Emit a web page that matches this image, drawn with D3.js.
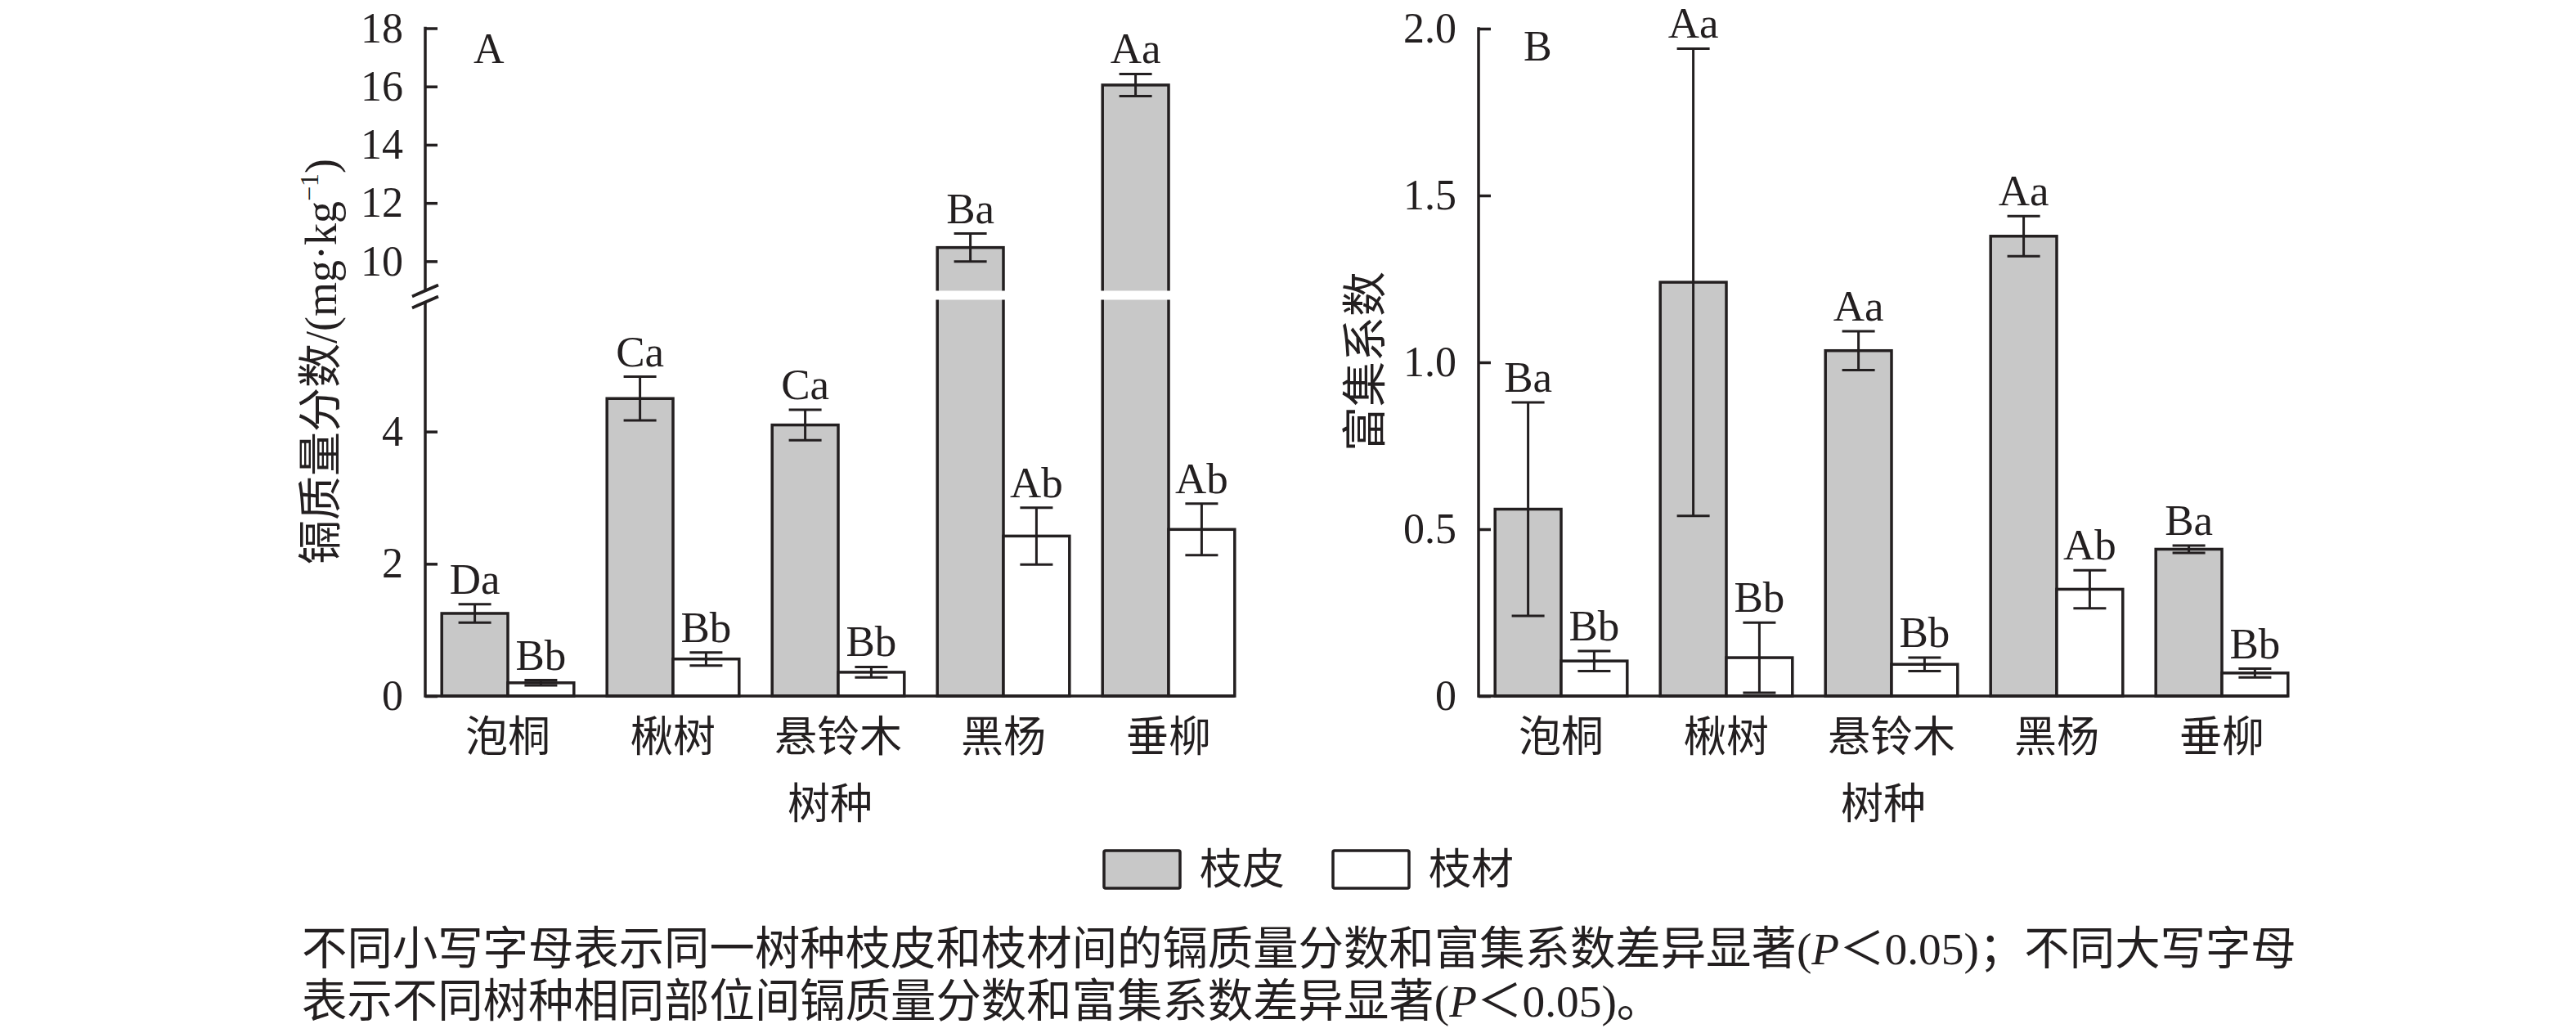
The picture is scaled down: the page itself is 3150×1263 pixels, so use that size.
<!DOCTYPE html>
<html><head><meta charset="utf-8">
<script src="https://cdn.jsdelivr.net/npm/d3@7"></script>
<style>body{margin:0;background:#fff}</style>
</head><body><svg id="c" width="3150" height="1263" xmlns="http://www.w3.org/2000/svg"></svg>
<script>
// ---------- data ----------
const categories = ["泡桐", "楸树", "悬铃木", "黑杨", "垂柳"];
const series = ["枝皮", "枝材"];

// A: Cd mass fraction (mg/kg)
const cdBark = [1.25, 4.50, 4.10, 10.47, 16.05];
const cdBarkErr = [0.14, 0.33, 0.23, 0.48, 0.38];
const cdWood = [0.20, 0.56, 0.36, 2.42, 2.52];
const cdWoodErr = [0.04, 0.10, 0.08, 0.43, 0.39];
const cdBarkLabels = ["Da", "Ca", "Ca", "Ba", "Aa"];
const cdWoodLabels = ["Bb", "Bb", "Bb", "Ab", "Ab"];
const cdTicksLower = [0, 2, 4];
const cdTicksUpper = [10, 12, 14, 16, 18];

// B: bioconcentration factor
const bcfBark = [0.56, 1.24, 1.035, 1.378, 0.44];
const bcfBarkErr = [0.32, 0.70, 0.058, 0.06, 0.011];
const bcfWood = [0.105, 0.115, 0.095, 0.32, 0.069];
const bcfWoodErr = [0.03, 0.105, 0.02, 0.057, 0.013];
const bcfBarkLabels = ["Ba", "Aa", "Aa", "Aa", "Ba"];
const bcfWoodLabels = ["Bb", "Bb", "Bb", "Ab", "Bb"];
const bcfTicks = [0, 0.5, 1.0, 1.5, 2.0];
const bcfTickLabels = ["0", "0.5", "1.0", "1.5", "2.0"];

const titleA = "镉质量分数/(mg·kg";
const titleB = "富集系数";
const xTitle = "树种";
const noteLine1 = ["不同小写字母表示同一树种枝皮和枝材间的镉质量分数和富集系数差异显著(", "P", "＜0.05)；不同大写字母"];
const noteLine2 = ["表示不同树种相同部位间镉质量分数和富集系数差异显著(", "P", "＜0.05)。"];

// ---------- style ----------
const INK = "#231f20";
const GRAY = "#c8c8c8";
const LAT = "'Liberation Serif','Times New Roman',serif";
const CJK = "'Noto Sans CJK SC','Noto Sans CJK JP',sans-serif";
const MIX = "'Liberation Serif','Noto Sans CJK SC',serif";
const BASE = 851;

const svg = d3.select("#c");
svg.append("rect").attr("width", 3150).attr("height", 1263).attr("fill", "#fff");

function rowsFor(bark, barkErr, barkLab, wood, woodErr, woodLab) {
  const rows = [];
  categories.forEach((c, i) => {
    rows.push({cat: c, s: series[0], v: bark[i], e: barkErr[i], lab: barkLab[i]});
    rows.push({cat: c, s: series[1], v: wood[i], e: woodErr[i], lab: woodLab[i]});
  });
  return rows;
}

function drawPanel(g, x, xSub, y, rows, gapY) {
  const fill = d3.scaleOrdinal().domain(series).range([GRAY, "#fff"]);
  g.selectAll("rect.bar").data(rows).join("rect").attr("class", "bar")
    .attr("x", d => x(d.cat) + xSub(d.s))
    .attr("width", xSub.bandwidth())
    .attr("y", d => y(d.v))
    .attr("height", d => BASE - y(d.v))
    .attr("fill", d => fill(d.s))
    .attr("stroke", INK).attr("stroke-width", 3.5);
  if (gapY) {
    g.selectAll("rect.gap").data(rows.filter(d => d.v > gapY.v)).join("rect").attr("class", "gap")
      .attr("x", d => x(d.cat) + xSub(d.s) - 4)
      .attr("width", xSub.bandwidth() + 8)
      .attr("y", gapY.top).attr("height", gapY.bottom - gapY.top)
      .attr("fill", "#fff");
  }
  const cx = d => x(d.cat) + xSub(d.s) + xSub.bandwidth() / 2;
  const eg = g.selectAll("g.err").data(rows).join("g").attr("class", "err")
    .attr("stroke", INK).attr("stroke-width", 3);
  eg.append("line").attr("x1", cx).attr("x2", cx)
    .attr("y1", d => y(d.v + d.e)).attr("y2", d => y(Math.max(0, d.v - d.e)));
  eg.append("line").attr("x1", d => cx(d) - 20).attr("x2", d => cx(d) + 20)
    .attr("y1", d => y(d.v + d.e)).attr("y2", d => y(d.v + d.e));
  eg.append("line").attr("x1", d => cx(d) - 20).attr("x2", d => cx(d) + 20)
    .attr("y1", d => y(Math.max(0, d.v - d.e))).attr("y2", d => y(Math.max(0, d.v - d.e)));
  g.selectAll("text.lab").data(rows).join("text").attr("class", "lab")
    .attr("x", cx).attr("y", d => y(d.v + d.e) - 13)
    .attr("text-anchor", "middle").attr("font-family", LAT).attr("font-size", 53)
    .attr("fill", INK).text(d => d.lab);
}

function styleAxis(sel) {
  sel.select(".domain").remove();
  sel.selectAll(".tick line").attr("stroke", INK).attr("stroke-width", 3.5);
  sel.selectAll(".tick text").attr("fill", INK).attr("font-family", LAT).attr("font-size", 52);
}

function catAxis(g, x, x0, x1) {
  g.append("line").attr("x1", x0).attr("x2", x1).attr("y1", BASE).attr("y2", BASE)
    .attr("stroke", INK).attr("stroke-width", 3.5);
  g.selectAll("text.cat").data(categories).join("text").attr("class", "cat")
    .attr("x", d => x(d) + x.bandwidth() / 2).attr("y", 919)
    .attr("text-anchor", "middle").attr("font-family", CJK).attr("font-size", 52)
    .attr("fill", INK).text(d => d);
  g.append("text").attr("x", (x0 + x1) / 2).attr("y", 1001)
    .attr("text-anchor", "middle").attr("font-family", CJK).attr("font-size", 52)
    .attr("fill", INK).text(xTitle);
}

// ---------- Panel A ----------
const AX = 520;
const xA = d3.scaleBand().domain(categories).range([AX, AX + 1010]).paddingInner(0.2).paddingOuter(0.1);
const xSubA = d3.scaleBand().domain(series).range([0, xA.bandwidth()]);
const yLow = d3.scaleLinear().domain([0, 6]).range([BASE, 366]);
const yUp = d3.scaleLinear().domain([9, 18]).range([355, 34.5]);
const yA = v => v <= 6 ? yLow(v) : yUp(v);

const gA = svg.append("g");
drawPanel(gA, xA, xSubA, yA, rowsFor(cdBark, cdBarkErr, cdBarkLabels, cdWood, cdWoodErr, cdWoodLabels),
  {v: 6, top: 355.5, bottom: 366.5});
const lastA = xA(categories[4]) + xA.bandwidth();
catAxis(gA, xA, AX, lastA);
gA.append("g").attr("transform", `translate(${AX},0)`)
  .call(d3.axisLeft(yLow).tickValues(cdTicksLower).tickFormat(d3.format("d")).tickSizeInner(-15).tickSizeOuter(0).tickPadding(27))
  .call(styleAxis);
gA.append("g").attr("transform", `translate(${AX},0)`)
  .call(d3.axisLeft(yUp).tickValues(cdTicksUpper).tickFormat(d3.format("d")).tickSizeInner(-15).tickSizeOuter(0).tickPadding(27))
  .call(styleAxis);
// axis line with break
gA.append("line").attr("x1", AX).attr("x2", AX).attr("y1", yUp(18) - 1.75).attr("y2", 355.4)
  .attr("stroke", INK).attr("stroke-width", 3.5);
gA.append("line").attr("x1", AX).attr("x2", AX).attr("y1", 369.4).attr("y2", BASE + 1.75)
  .attr("stroke", INK).attr("stroke-width", 3.5);
[355.4, 369.4].forEach(yy => {
  gA.append("line").attr("x1", AX - 16).attr("x2", AX + 16)
    .attr("y1", yy + 7).attr("y2", yy - 7)
    .attr("stroke", INK).attr("stroke-width", 3.8);
});
gA.append("text").attr("x", 579).attr("y", 77).attr("font-family", LAT).attr("font-size", 52)
  .attr("fill", INK).text("A");
const tA = gA.append("text").attr("transform", "translate(411,442) rotate(-90)")
  .attr("text-anchor", "middle").attr("font-family", MIX).attr("font-size", 54).attr("fill", INK);
tA.append("tspan").text(titleA);
tA.append("tspan").attr("font-size", 32).attr("dy", -22).text("−1");
tA.append("tspan").attr("dy", 22).text(")");

// ---------- Panel B ----------
const BX = 1808;
const xB = d3.scaleBand().domain(categories).range([BX, BX + 1010]).paddingInner(0.2).paddingOuter(0.1);
const xSubB = d3.scaleBand().domain(series).range([0, xB.bandwidth()]);
const yB = d3.scaleLinear().domain([0, 2]).range([BASE, 35]);
const gB = svg.append("g");
drawPanel(gB, xB, xSubB, yB, rowsFor(bcfBark, bcfBarkErr, bcfBarkLabels, bcfWood, bcfWoodErr, bcfWoodLabels), null);
const lastB = xB(categories[4]) + xB.bandwidth();
catAxis(gB, xB, BX, lastB);
gB.append("g").attr("transform", `translate(${BX},0)`)
  .call(d3.axisLeft(yB).tickValues(bcfTicks).tickFormat((d, i) => bcfTickLabels[i]).tickSizeInner(-15).tickSizeOuter(0).tickPadding(27))
  .call(styleAxis);
gB.append("line").attr("x1", BX).attr("x2", BX).attr("y1", yB(2) - 1.75).attr("y2", BASE + 1.75)
  .attr("stroke", INK).attr("stroke-width", 3.5);
gB.append("text").attr("x", 1863).attr("y", 74).attr("font-family", LAT).attr("font-size", 52)
  .attr("fill", INK).text("B");
gB.append("text").attr("transform", "translate(1688,442) rotate(-90)")
  .attr("text-anchor", "middle").attr("font-family", CJK).attr("font-size", 55).attr("fill", INK)
  .text(titleB);

// ---------- legend ----------
const legX = d3.scaleOrdinal().domain(series).range([1350, 1630]);
const legFill = d3.scaleOrdinal().domain(series).range([GRAY, "#fff"]);
const lg = svg.append("g");
lg.selectAll("rect").data(series).join("rect")
  .attr("x", d => legX(d)).attr("y", 1040).attr("width", 93).attr("height", 46).attr("rx", 2)
  .attr("fill", d => legFill(d)).attr("stroke", INK).attr("stroke-width", 3.5);
lg.selectAll("text").data(series).join("text")
  .attr("x", d => legX(d) + 117).attr("y", 1081)
  .attr("font-family", CJK).attr("font-size", 52).attr("fill", INK).text(d => d);

// ---------- footnote ----------
[[noteLine1, 1179], [noteLine2, 1243]].forEach(([parts, yy]) => {
  const t = svg.append("text").attr("x", 369).attr("y", yy)
    .attr("font-family", MIX).attr("font-size", 55.4).attr("fill", INK);
  t.append("tspan").text(parts[0]);
  t.append("tspan").attr("font-style", "italic").text(parts[1]);
  t.append("tspan").text(parts[2]);
});
</script></body></html>
